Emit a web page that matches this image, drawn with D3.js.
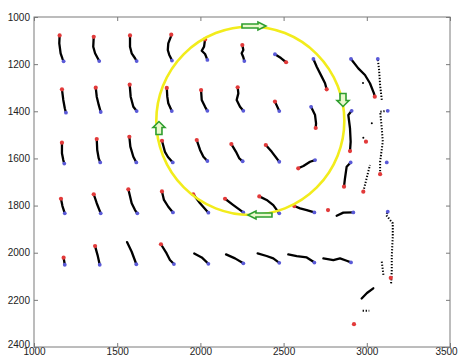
<!DOCTYPE html>
<html>
<head>
<meta charset="utf-8">
<script src="https://cdn.jsdelivr.net/npm/d3@7"></script>
<style>
  body { margin: 0; background: #fff; }
  svg { display: block; font-family: "Liberation Sans", Arial, sans-serif; }
</style>
</head>
<body>
<div id="chart"></div>
<script>
// axis ticks
var xTicks = [1000, 1500, 2000, 2500, 3000, 3500];
var yTicks = [1000, 1200, 1400, 1600, 1800, 2000, 2200, 2400];

// trajectories, each path ordered from the red end to the blue end
// m: which end markers are shown ("r" red start, "b" blue end), dot: sparse dotted trace
var row1 = [
  {m: "rb", p: [[1154,1078],[1152,1112],[1160,1154],[1172,1179],[1178,1188]]},
  {m: "rb", p: [[1359,1084],[1356,1126],[1367,1154],[1383,1175],[1392,1187]]},
  {m: "rb", p: [[1577,1078],[1577,1126],[1587,1154],[1607,1175],[1617,1187]]},
  {m: "rb", p: [[1825,1075],[1822,1084],[1807,1112],[1804,1140],[1813,1161],[1823,1175],[1829,1185]]},
  {m: "rb", p: [[2028,1095],[2022,1126],[2008,1143],[2028,1157],[2042,1182]]},
  {m: "rb", p: [[2252,1119],[2258,1140],[2248,1154],[2258,1171],[2264,1187]]},
  {m: "rb", p: [[2515,1192],[2484,1174],[2448,1158]]},
  {m: "rb", p: [[2759,1307],[2749,1281],[2729,1253],[2699,1211],[2679,1178]]},
  {m: "rb", p: [[3048,1338],[3043,1324],[3019,1281],[2989,1246],[2949,1218],[2905,1178]]},
  {m: "b", dot: true, p: [[3090,1352],[3080,1289],[3074,1225],[3066,1178]]}
];
var row2 = [
  {m: "rb", p: [[1168,1307],[1176,1352],[1185,1387],[1192,1406]]},
  {m: "rb", p: [[1371,1300],[1377,1338],[1389,1373],[1401,1403]]},
  {m: "rb", p: [[1575,1287],[1581,1338],[1597,1381],[1617,1399]]},
  {m: "rb", p: [[1798,1301],[1801,1338],[1807,1366],[1828,1399]]},
  {m: "rb", p: [[2004,1310],[2008,1352],[2028,1381],[2042,1398]]},
  {m: "rb", p: [[2224,1298],[2228,1324],[2218,1352],[2238,1381],[2258,1398]]},
  {m: "rb", p: [[2448,1359],[2474,1399]]},
  {m: "rb", p: [[2693,1471],[2695,1451],[2689,1416],[2665,1381]]},
  {m: "rb", p: [[2899,1569],[2903,1529],[2899,1472],[2889,1416],[2909,1398]]},
  {m: "rb", dot: true, p: [[3080,1667],[3080,1614],[3096,1529],[3090,1472],[3080,1402],[3126,1398]]}
];
var row3 = [
  {m: "rb", p: [[1168,1533],[1168,1578],[1176,1607],[1182,1622]]},
  {m: "rb", p: [[1377,1518],[1380,1564],[1389,1600],[1398,1617]]},
  {m: "rb", p: [[1573,1508],[1579,1550],[1597,1593],[1615,1617]]},
  {m: "rb", p: [[1769,1525],[1787,1572],[1805,1594],[1834,1617]]},
  {m: "rb", p: [[1978,1522],[1998,1564],[2018,1593],[2042,1611]]},
  {m: "rb", p: [[2186,1539],[2214,1572],[2234,1600],[2254,1612]]},
  {m: "rb", p: [[2393,1543],[2429,1572],[2474,1614]]},
  {m: "rb", p: [[2588,1642],[2619,1632],[2659,1614],[2689,1607]]},
  {m: "rb", p: [[2863,1720],[2869,1684],[2879,1635],[2903,1617]]},
  {m: "r", dot: true, p: [[2979,1741],[2999,1684],[3019,1628]]},
  {m: "b", p: [[3120,1617]]}
];
var row4 = [
  {m: "rb", p: [[1162,1771],[1171,1802],[1185,1833]]},
  {m: "rb", p: [[1359,1752],[1377,1790],[1401,1833]]},
  {m: "rb", p: [[1567,1731],[1587,1790],[1607,1819],[1621,1833]]},
  {m: "rb", p: [[1769,1740],[1781,1776],[1807,1805],[1835,1829]]},
  {m: "rb", p: [[1957,1752],[1998,1790],[2048,1830]]},
  {m: "rb", p: [[2148,1771],[2198,1798],[2258,1829]]},
  {m: "rb", p: [[2354,1761],[2398,1776],[2438,1798],[2474,1833]]},
  {m: "rb", p: [[2564,1802],[2599,1812],[2639,1819],[2685,1829]]},
  {m: "b", p: [[2819,1843],[2859,1830],[2919,1829]]},
  {m: "b", dot: true, p: [[3146,2130],[3150,2073],[3150,2017],[3156,1932],[3156,1875],[3116,1840],[3126,1826]]}
];
var row5 = [
  {m: "rb", p: [[1178,2021],[1185,2051]]},
  {m: "rb", p: [[1367,1972],[1382,2010],[1395,2051]]},
  {m: "b", p: [[1559,1955],[1587,1996],[1615,2049]]},
  {m: "rb", p: [[1763,1964],[1797,2003],[1817,2031],[1841,2048]]},
  {m: "b", p: [[1963,2003],[2008,2020],[2048,2047]]},
  {m: "b", p: [[2154,2007],[2208,2024],[2258,2045]]},
  {m: "b", p: [[2344,2003],[2398,2014],[2438,2024],[2474,2043]]},
  {m: "b", p: [[2528,2007],[2579,2014],[2639,2020],[2679,2038],[2685,2042]]},
  {m: "b", p: [[2739,2024],[2799,2031],[2839,2024],[2879,2034],[2905,2041]]}
];
var strayTracks = [
  {m: "", p: [[2969,2194],[3001,2171],[3039,2151]]},
  {m: "", dot: true, p: [[2975,2246],[3015,2246]]},
  {m: "", dot: true, p: [[3090,2038],[3100,2095]]}
];
var strayRed = [[2767,1819],[2995,1529],[3144,2107],[2923,2303]];
var strayBlack = [[2979,1512],[3030,1451],[2977,1280]];

// yellow circle (centre and radii in data units) and the four direction arrows
var circleCentre = [2300, 1440];
var circleRadius = [565, 400];
var arrows = [
  {at: [2322,1038], dir: 0},
  {at: [2857,1352], dir: 90},
  {at: [2358,1840], dir: 180},
  {at: [1751,1471], dir: -90}
];

var width = 458, height = 356;
var margin = {left: 34, right: 8, top: 17, bottom: 9};

var x = d3.scaleLinear().domain([1000, 3500]).range([margin.left, width - margin.right]);
var y = d3.scaleLinear().domain([1000, 2400]).range([margin.top, height - margin.bottom]);

var svg = d3.select("#chart").append("svg")
  .attr("width", width)
  .attr("height", height);

var axisColor = "#7a7a7a";
var fmt = d3.format("d");

// axes with inward ticks, MATLAB style
function styleAxis(g) {
  g.select(".domain").remove();
  g.selectAll(".tick line").attr("stroke", axisColor);
  g.selectAll(".tick text").attr("fill", "#222").attr("font-size", "10px");
}
var xAxisG = svg.append("g")
  .attr("transform", "translate(0," + y.range()[1] + ")")
  .call(d3.axisBottom(x).tickValues(xTicks).tickFormat(fmt).tickSizeInner(-4).tickSizeOuter(0).tickPadding(1))
  .call(styleAxis);
// the last label sits against the right edge of the figure
xAxisG.selectAll(".tick text").filter(function(d) { return d === 3500; }).attr("dx", -4);

svg.append("g")
  .attr("transform", "translate(0," + y.range()[0] + ")")
  .call(d3.axisTop(x).tickValues(xTicks).tickSizeInner(-4).tickSizeOuter(0).tickFormat(""))
  .call(styleAxis);
var yAxisG = svg.append("g")
  .attr("transform", "translate(" + x.range()[0] + ",0)")
  .call(d3.axisLeft(y).tickValues(yTicks).tickFormat(fmt).tickSizeInner(-4).tickSizeOuter(0).tickPadding(4))
  .call(styleAxis);
yAxisG.selectAll(".tick text").filter(function(d) { return d === 2400; }).attr("y", -3);

svg.append("g")
  .attr("transform", "translate(" + x.range()[1] + ",0)")
  .call(d3.axisRight(y).tickValues(yTicks).tickSizeInner(-4).tickSizeOuter(0).tickFormat(""))
  .call(styleAxis);

svg.append("rect")
  .attr("x", x.range()[0]).attr("y", y.range()[0])
  .attr("width", x.range()[1] - x.range()[0])
  .attr("height", y.range()[1] - y.range()[0])
  .attr("fill", "none")
  .attr("stroke", axisColor)
  .attr("stroke-width", 1);

var plot = svg.append("g").attr("class", "plot");

var line = d3.line()
  .x(function(d) { return x(d[0]); })
  .y(function(d) { return y(d[1]); });

var allTracks = row1.concat(row2, row3, row4, row5, strayTracks);

// black traces
plot.selectAll("path.trace")
  .data(allTracks.filter(function(t) { return t.p.length > 1; }))
  .enter()
  .append("path")
  .attr("class", "trace")
  .attr("fill", "none")
  .attr("stroke", "#000")
  .attr("stroke-width", function(t) { return t.dot ? 2 : 2.3; })
  .attr("stroke-dasharray", function(t) { return t.dot ? "1.3,1.7" : null; })
  .attr("stroke-linecap", function(t) { return t.dot ? "butt" : "round"; })
  .attr("stroke-linejoin", "round")
  .attr("d", function(t) { return line(t.p); });

plot.selectAll("circle.stray")
  .data(strayBlack)
  .enter()
  .append("circle")
  .attr("class", "stray")
  .attr("cx", function(d) { return x(d[0]); })
  .attr("cy", function(d) { return y(d[1]); })
  .attr("r", 1)
  .attr("fill", "#000");

// start (red) and end (blue) markers
var redPts = allTracks.filter(function(t) { return t.m.indexOf("r") >= 0; })
  .map(function(t) { return t.p[0]; }).concat(strayRed);
var bluePts = allTracks.filter(function(t) { return t.m.indexOf("b") >= 0; })
  .map(function(t) { return t.p[t.p.length - 1]; });

plot.selectAll("circle.red")
  .data(redPts)
  .enter()
  .append("circle")
  .attr("class", "red")
  .attr("cx", function(d) { return x(d[0]); })
  .attr("cy", function(d) { return y(d[1]); })
  .attr("r", 2.1)
  .attr("fill", "#e23a3a");

plot.selectAll("circle.blue")
  .data(bluePts)
  .enter()
  .append("circle")
  .attr("class", "blue")
  .attr("cx", function(d) { return x(d[0]); })
  .attr("cy", function(d) { return y(d[1]); })
  .attr("r", 1.9)
  .attr("fill", "#5a5ad8");

// yellow circle
var cx = x(circleCentre[0]), cy = y(circleCentre[1]);
svg.append("ellipse")
  .attr("cx", cx)
  .attr("cy", cy)
  .attr("rx", x(circleCentre[0] + circleRadius[0]) - cx)
  .attr("ry", y(circleCentre[1] + circleRadius[1]) - cy)
  .attr("fill", "none")
  .attr("stroke", "#f2ec1c")
  .attr("stroke-width", 2.6);

// hollow green arrows; horizontal ones are long and flat, vertical ones short and wide
function arrowPath(horizontal) {
  var L = horizontal ? 24 : 13, W = horizontal ? 8 : 12, bw = horizontal ? 4 : 6, hl = horizontal ? 8 : 6;
  var t = -L / 2, h = L / 2 - hl, e = L / 2;
  return "M" + t + "," + (-bw / 2) + "L" + h + "," + (-bw / 2) + "L" + h + "," + (-W / 2) +
    "L" + e + ",0L" + h + "," + (W / 2) + "L" + h + "," + (bw / 2) + "L" + t + "," + (bw / 2) + "Z";
}
svg.selectAll("path.arrow")
  .data(arrows)
  .enter()
  .append("path")
  .attr("class", "arrow")
  .attr("transform", function(a) {
    return "translate(" + x(a.at[0]) + "," + y(a.at[1]) + ") rotate(" + a.dir + ")";
  })
  .attr("d", function(a) { return arrowPath(a.dir === 0 || a.dir === 180); })
  .attr("fill", "#eaf8cc")
  .attr("stroke", "#2f9e2f")
  .attr("stroke-width", 1.6)
  .attr("stroke-linejoin", "miter");
</script>
</body>
</html>
